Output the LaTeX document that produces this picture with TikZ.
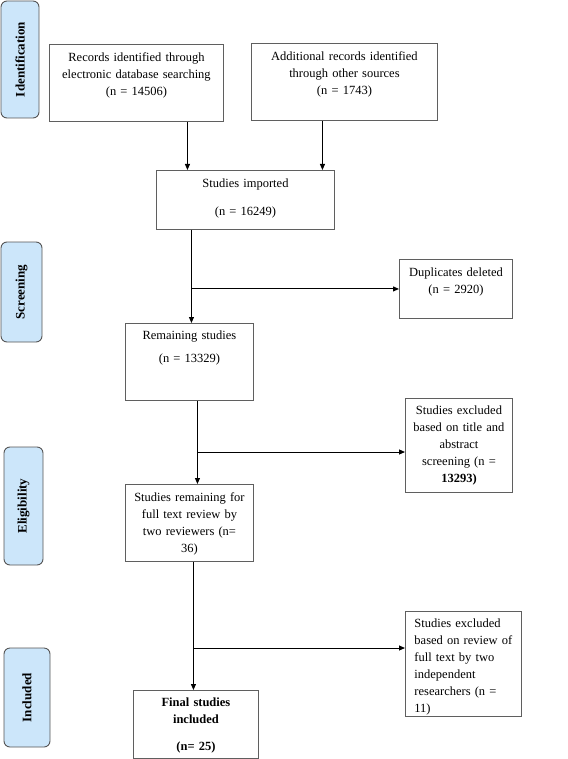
\documentclass[tikz,border=0pt]{standalone}
\usepackage{fontspec}
\setmainfont{Liberation Serif}
\usepackage{xcolor}
\usetikzlibrary{arrows.meta}
\definecolor{stagefill}{RGB}{204,230,250}
\definecolor{stageline}{RGB}{85,85,85}
\definecolor{boxline}{RGB}{95,95,95}

\begin{document}
\begin{tikzpicture}[x=1pt, y=-1pt, >={Triangle[length=6pt,width=5pt]},
  font=\fontsize{12.5}{17}\selectfont,
  box/.style={draw=boxline, line width=0.9pt, anchor=north west, align=center, inner xsep=3pt, inner ysep=0pt},
  boldbox/.style={box, font=\fontsize{12.5}{17}\selectfont\bfseries},
  stage/.style={draw=stageline, fill=stagefill, rounded corners=6pt, rotate=90, line width=0.9pt, inner sep=0pt, font=\fontsize{13}{15}\selectfont\bfseries},
  flow/.style={->, line width=1pt}]
\useasboundingbox (0,0) rectangle (567,759);

\node[stage, minimum width=117pt, minimum height=38pt] (idn) at (20,59.5)  {Identification};
\node[stage, minimum width=100pt, minimum height=41pt] (scr) at (21.5,292) {Screening};
\node[stage, minimum width=118pt, minimum height=39pt] (elg) at (23.5,506) {Eligibility};
\node[stage, minimum width=99pt,  minimum height=46pt] (inc) at (27,697.5) {Included};

\node[box, text width=168pt, text height=17pt, text depth=60pt] (rec)  at (49,44)   {Records identified through\\electronic database searching\\(n = 14506)};
\node[box, text width=180pt, text height=17pt, text depth=60pt] (add)  at (251,43)  {Additional records identified\\through other sources\\(n = 1743)};
\node[box, text width=172pt, text height=17pt, text depth=42pt] (imp)  at (156,170) {Studies imported\\[11pt](n = 16249)};
\node[box, text width=107pt, text height=17pt, text depth=42pt] (dup)  at (399,259) {Duplicates deleted\\(n = 2920)};
\node[box, text width=122pt, text height=16pt, text depth=61pt] (rem)  at (125,323) {Remaining studies\\[6pt](n = 13329)};
\node[box, text width=101pt, text height=16pt, text depth=78pt] (excTA) at (405,398) {Studies excluded\\based on title and\\abstract\\screening (n =\\\textbf{13293)}};
\node[box, text width=122pt, text height=17pt, text depth=60pt] (srem) at (125,484) {Studies remaining for\\full text review by\\two reviewers (n=\\36)};
\node[box, align=left, inner xsep=9pt, text width=98pt, text height=16pt, text depth=89pt] (excFT) at (405,611) {Studies excluded\\based on review of\\full text by two\\independent\\researchers (n =\\11)};
\node[boldbox, text width=119pt, text height=16pt, text depth=52pt] (fin)  at (133,690) {Final studies\\included\\[10pt](n= 25)};

\coordinate (j1) at ([xshift=-54pt]imp.south |- dup.west);
\coordinate (j2) at ([xshift=8pt]rem.south |- 0,452);
\coordinate (j3) at ([xshift=4pt]srem.south |- 0,648);

\draw[flow] ([xshift=51pt]rec.south) -- ([xshift=51pt]rec.south |- imp.north);
\draw[flow] ([xshift=-22pt]add.south) -- ([xshift=-22pt]add.south |- imp.north);
\draw[flow] ([xshift=-54pt]imp.south) -- ([xshift=-54pt]imp.south |- rem.north);
\draw[flow] (j1) -- (dup.west);
\draw[flow] ([xshift=8pt]rem.south) -- ([xshift=8pt]rem.south |- srem.north);
\draw[flow] (j2) -- (j2 -| excTA.west);
\draw[flow] ([xshift=4pt]srem.south) -- ([xshift=4pt]srem.south |- fin.north);
\draw[flow] (j3) -- (j3 -| excFT.west);
\end{tikzpicture}
\end{document}
